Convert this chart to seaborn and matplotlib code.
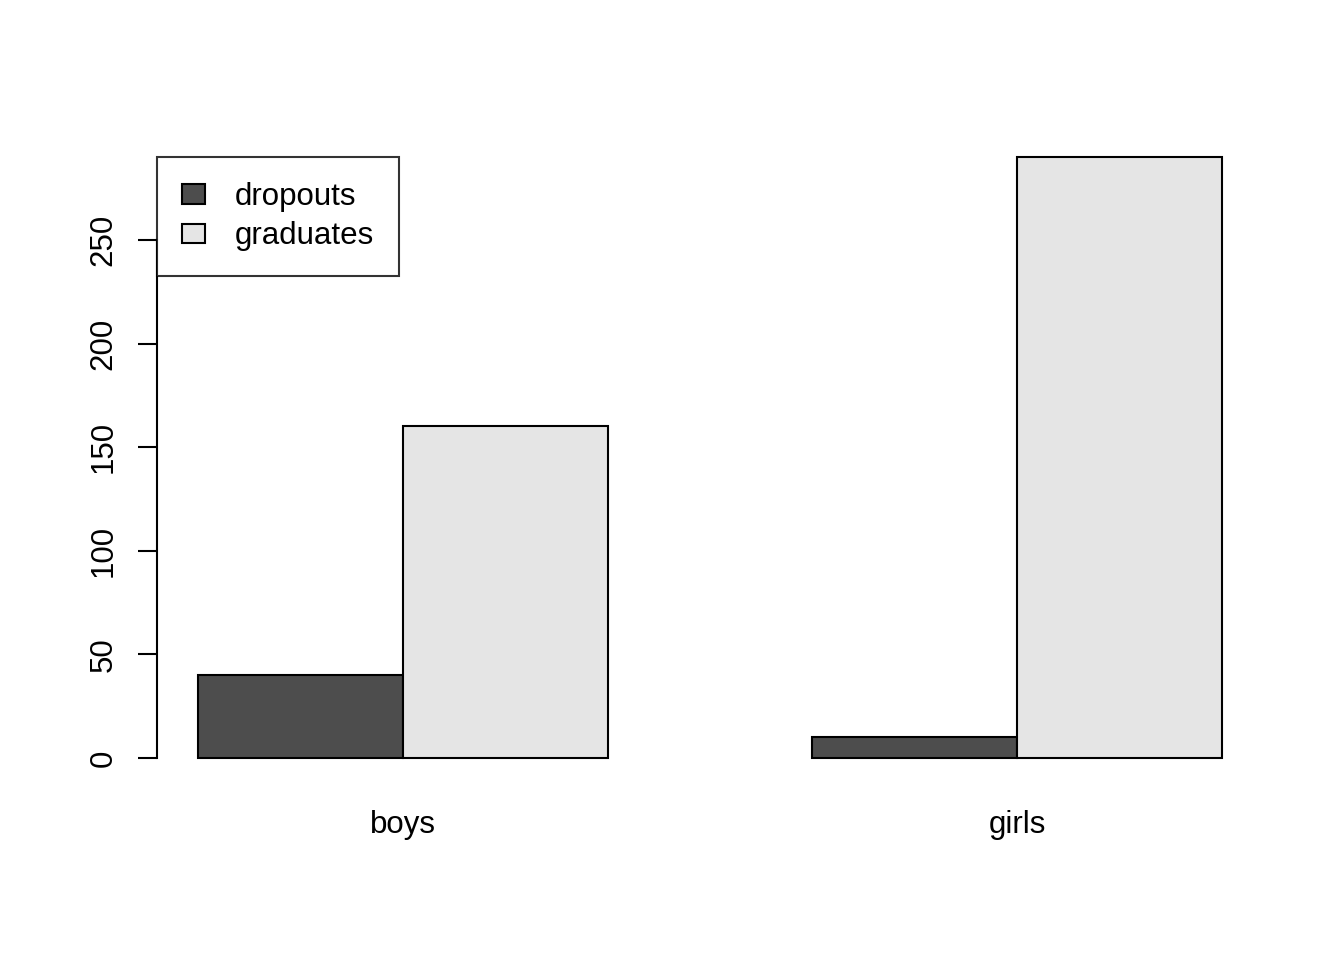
import pandas as pd
import seaborn as sns
import matplotlib.pyplot as plt

# data
groups = ["boys", "girls"]
dropouts = [40, 10]
graduates = [160, 290]
status = ["dropouts", "graduates"]
colors = ["#4D4D4D", "#E5E5E5"]

d = pd.DataFrame({
    "group": groups * 2,
    "status": [status[0]] * 2 + [status[1]] * 2,
    "count": dropouts + graduates,
})

sns.set_style("white")
plt.rcParams["font.family"] = ["Liberation Sans", "DejaVu Sans"]
plt.rcParams["text.color"] = "black"
plt.rcParams["xtick.color"] = "black"
plt.rcParams["ytick.color"] = "black"
fs = 22.5

fig = plt.figure(figsize=(13.44, 9.6), dpi=100)
ax = fig.add_axes([157 / 1344, 1 - 782 / 960, (1263 - 157) / 1344, (782 - 133) / 960])

sns.barplot(data=d, x="group", y="count", hue="status", palette=colors,
            saturation=1, width=2 / 3, gap=0, edgecolor="black",
            linewidth=1.5, ax=ax)

ax.set_xlim(-0.4, 1.4)
ax.set_ylim(-11.6, 301.6)
ax.set_xlabel("")
ax.set_ylabel("")

for s in ["top", "right", "bottom"]:
    ax.spines[s].set_visible(False)
ax.spines["left"].set_bounds(0, 250)
ax.spines["left"].set_color("black")
ax.spines["left"].set_linewidth(1.5)

ax.set_yticks([0, 50, 100, 150, 200, 250])
ax.tick_params(axis="y", left=True, length=13.7, width=1.5, color="black",
               pad=14, labelsize=fs, labelcolor="black")
for lab in ax.get_yticklabels():
    lab.set_rotation(90)
    lab.set_va("center")
ax.tick_params(axis="x", bottom=False, length=0, pad=20.5, labelsize=fs,
               labelcolor="black")

handles, labels = ax.get_legend_handles_labels()
if ax.get_legend() is not None:
    ax.get_legend().remove()
leg = ax.legend(handles, labels, loc="upper left",
                bbox_to_anchor=(157 / 1344, 1 - 157 / 960),
                bbox_transform=fig.transFigure, borderaxespad=0,
                fontsize=fs, frameon=True, fancybox=False,
                handlelength=0.74, handleheight=0.58, handletextpad=0.95,
                labelspacing=0.3, borderpad=0.8)
leg.get_frame().set_edgecolor("black")
leg.get_frame().set_linewidth(1.5)

plt.savefig("out.png", dpi=100)
